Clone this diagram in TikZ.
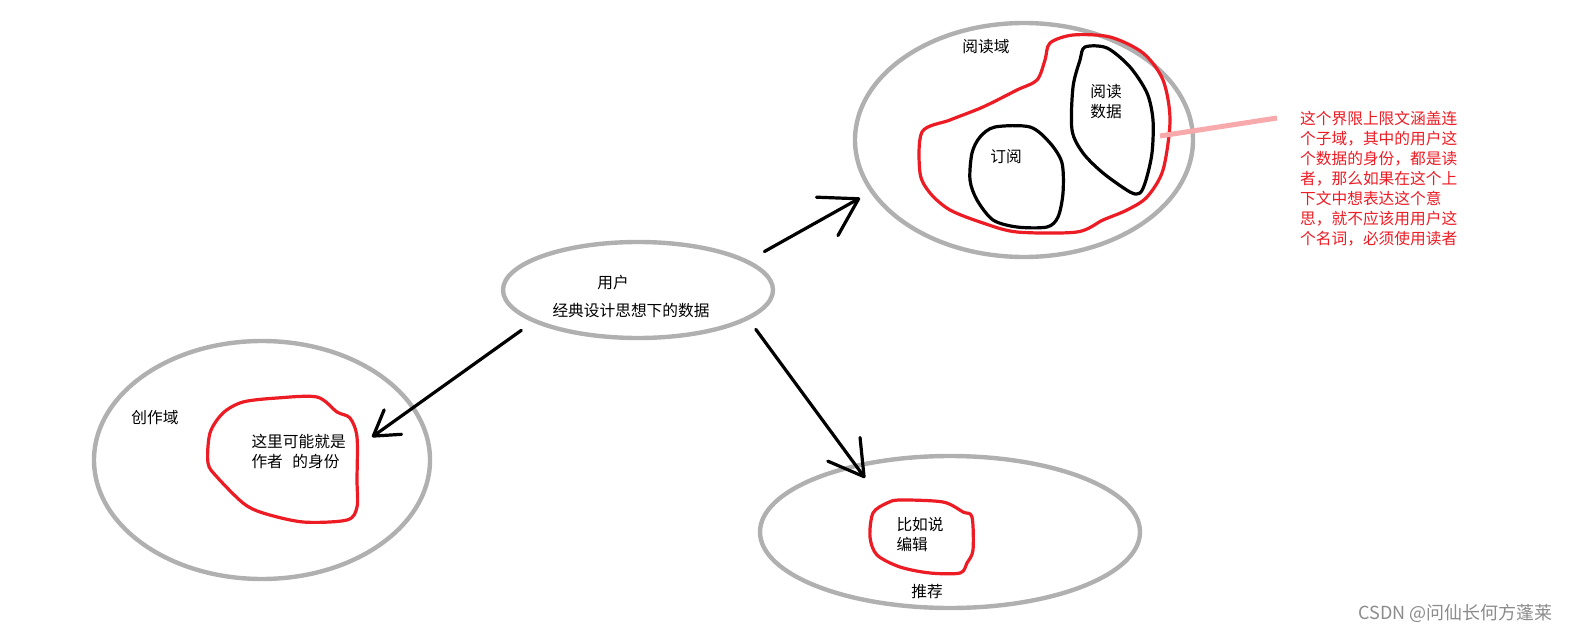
\documentclass[tikz,border=0pt]{standalone}
\usepackage{fontspec}
\setmainfont{Noto Sans CJK SC}
\usetikzlibrary{arrows.meta,shapes.geometric,positioning}
\definecolor{paintred}{RGB}{237,28,36}

\begin{document}
\begin{tikzpicture}[x=1pt,y=-1pt,font=\fontsize{15.7}{20}\selectfont,
                area/.style={ellipse,draw=gray!62,line width=4.4pt,inner sep=0pt},
                red loop/.style={draw=paintred,line width=3.2pt,line join=round},
                black loop/.style={draw=black,line width=3.2pt,line join=round},
                sketch/.style={line width=3.2pt,line cap=round,-{Straight Barb[round,#1]}},
                pink line/.style={draw=paintred!38,line width=5pt}]
                \useasboundingbox[fill=white] (0,0) rectangle (1571,634);

                % the four domains
                \node[area,minimum width=338pt,minimum height=234pt] (read) at (1024,140) {};
                \node[area,minimum width=270pt,minimum height=96pt] (user) at (638,290) {};
                \node[area,minimum width=336pt,minimum height=238pt] (write) at (262,460) {};
                \node[area,minimum width=380pt,minimum height=152pt] (rec) at (950,532) {};

                % hand drawn sub-domains
                \draw[red loop] plot[smooth cycle,tension=0.5] coordinates {(922,132) (920,173) (930,193) (950,210) (983,223) (1017,232) (1077,232) (1103,220) (1127,210) (1147,197) (1163,170) (1170,120) (1163,80) (1143,53) (1110,37) (1073,35) (1050,43) (1045,60) (1037,80) (1017,90) (983,107) (950,120)};
                \draw[black loop] plot[smooth cycle,tension=0.5] coordinates {(995,127) (1030,127) (1050,143) (1062,163) (1063,193) (1058,217) (1047,227) (1017,227) (993,220) (977,200) (970,180) (972,153) (980,137)};
                \draw[black loop] plot[smooth cycle,tension=0.5] coordinates {(1085,47) (1107,48) (1130,67) (1147,93) (1153,120) (1152,153) (1146,180) (1140,193) (1130,192) (1103,173) (1083,153) (1072,130) (1073,87) (1080,60)};
                \draw[red loop] plot[smooth cycle,tension=0.5] coordinates {(243,402) (277,398) (317,397) (337,412) (350,418) (357,437) (357,480) (357,507) (347,520) (303,522) (263,513) (243,503) (217,477) (208,463) (210,433) (223,413)};
                \draw[red loop] plot[smooth cycle,tension=0.5] coordinates {(900,500) (943,502) (963,512) (972,517) (973,550) (967,563) (960,573) (930,573) (900,567) (877,555) (870,537) (873,513) (887,503)};

                % labels
                \node (read label) at (986,47) {阅读域};
                \node (sub label) at (1006,157) {订阅};
                \node[align=center] (data label) at (1106,102) {阅读\\数据};
                \node (user label) at (613,283) {用户};
                \node (user desc) at (631,311) {经典设计思想下的数据};
                \node (write label) at (155,418) {创作域};
                \node[align=left,anchor=west] (author label) at (248,452) {这里可能就是\\作者\hspace{0.6em}的身份};
                \node[align=left,anchor=west] (edit label) at (893,535) {比如说\\编辑};
                \node (rec label) at (927,592) {推荐};
                \node[align=left,anchor=north west,inner sep=0pt,text=paintred] (note) at (1300,111)
                  {这个界限上限文涵盖连\\个子域，其中的用户这\\个数据的身份，都是读\\者，那么如果在这个上\\下文中想表达这个意\\思，就不应该用用户这\\个名词，必须使用读者};
                \node[anchor=east,text=gray!90,font=\fontsize{18}{20}\selectfont] (mark) at (1556,613) {CSDN @问仙长何方蓬莱};

                % arrows out of the user domain
                \coordinate (to read) at (860,198);
                \coordinate (to write) at (372,437);
                \coordinate (to rec) at (865,478);
                \draw[sketch={length=36pt,width=44pt},shorten <=18pt] (user.15) -- (to read);
                \draw[sketch={length=24pt,width=30pt},shorten <=14pt] (user.197) -- (to write);
                \draw[sketch={length=34pt,width=40pt},shorten <=12pt] (user.345) -- (to rec);

                % pointer to the note
                \coordinate (red edge) at (1160,136);
                \coordinate (note end) at (1277,118);
                \draw[pink line] (red edge) -- (note end);
\end{tikzpicture}
\end{document}
